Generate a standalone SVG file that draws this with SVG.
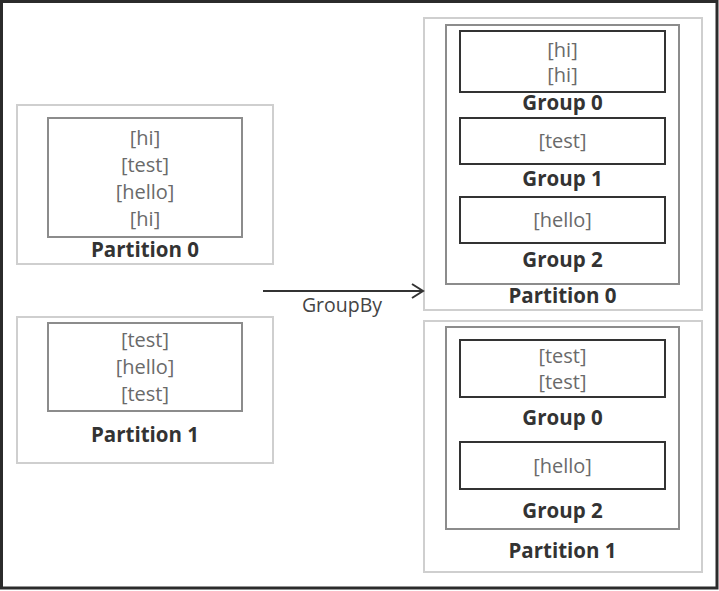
<svg xmlns="http://www.w3.org/2000/svg" width="719" height="591" viewBox="0 0 719 591">
<style>
.frame{fill:#fff;stroke:#2b2b2b;stroke-width:3}
.part{fill:none;stroke:#cfcfcf;stroke-width:2}
.inner{fill:none;stroke:#8c8c8c;stroke-width:2}
.grp{fill:#fff;stroke:#333;stroke-width:2}
.item{font-family:"Open Sans","Liberation Sans",sans-serif;font-size:20px;fill:#6a6a6a;text-anchor:middle}
.lbl{font-family:"Open Sans","Liberation Sans",sans-serif;font-size:20.5px;font-weight:bold;fill:#333;text-anchor:middle}
.conn{fill:none;stroke:#333;stroke-width:2}
.clbl{font-family:"Open Sans","Liberation Sans",sans-serif;font-size:19.5px;fill:#444;text-anchor:middle}
</style>
<rect class="frame" x="1.5" y="1.5" width="715.5" height="586.5"/>

<g id="left-partition-0">
<rect class="part" x="17" y="105" width="256" height="159"/>
<rect class="inner" x="48" y="118" width="194" height="119"/>
<text class="item" x="145" y="145">[hi]</text>
<text class="item" x="145" y="172">[test]</text>
<text class="item" x="145" y="199">[hello]</text>
<text class="item" x="145" y="226">[hi]</text>
<text class="lbl" x="145" y="257">Partition 0</text>
</g>

<g id="left-partition-1">
<rect class="part" x="17" y="317" width="256" height="146"/>
<rect class="inner" x="48" y="323" width="194" height="88"/>
<text class="item" x="145" y="347">[test]</text>
<text class="item" x="145" y="374">[hello]</text>
<text class="item" x="145" y="401">[test]</text>
<text class="lbl" x="145" y="442">Partition 1</text>
</g>

<g id="right-partition-0">
<rect class="part" x="424" y="18" width="278" height="292"/>
<rect class="inner" x="446" y="25" width="233" height="259"/>
<g id="rp0-group-0">
<rect class="grp" x="460" y="31" width="205" height="61"/>
<text class="item" x="562.5" y="57">[hi]</text>
<text class="item" x="562.5" y="82">[hi]</text>
<text class="lbl" x="562.5" y="110">Group 0</text>
</g>
<g id="rp0-group-1">
<rect class="grp" x="460" y="118" width="205" height="46"/>
<text class="item" x="562.5" y="148">[test]</text>
<text class="lbl" x="562.5" y="186">Group 1</text>
</g>
<g id="rp0-group-2">
<rect class="grp" x="460" y="197" width="205" height="46"/>
<text class="item" x="562.5" y="227">[hello]</text>
<text class="lbl" x="562.5" y="267">Group 2</text>
</g>
<text class="lbl" x="562.5" y="303">Partition 0</text>
</g>

<g id="right-partition-1">
<rect class="part" x="424" y="321" width="278" height="251"/>
<rect class="inner" x="446" y="327" width="233" height="202"/>
<g id="rp1-group-0">
<rect class="grp" x="460" y="340" width="205" height="57"/>
<text class="item" x="562.5" y="363">[test]</text>
<text class="item" x="562.5" y="389">[test]</text>
<text class="lbl" x="562.5" y="425">Group 0</text>
</g>
<g id="rp1-group-2">
<rect class="grp" x="460" y="442" width="205" height="47"/>
<text class="item" x="562.5" y="473">[hello]</text>
<text class="lbl" x="562.5" y="518">Group 2</text>
</g>
<text class="lbl" x="562.5" y="558">Partition 1</text>
</g>

<g id="connectors">
<line class="conn" x1="263" y1="291" x2="422" y2="291"/>
<polyline class="conn" points="412,284 423,291 412,298"/>
<text class="clbl" x="342" y="312">GroupBy</text>
</g>
</svg>
